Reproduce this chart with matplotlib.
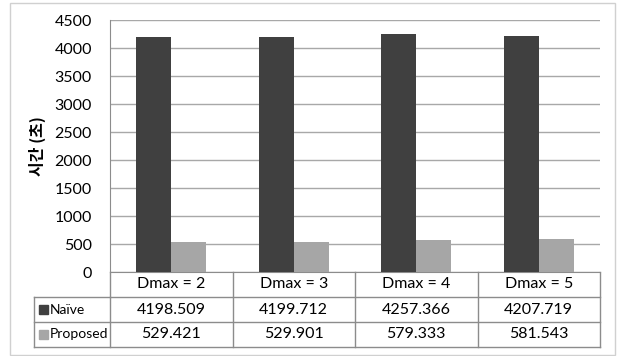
import matplotlib.pyplot as plt
import numpy as np
from matplotlib.patches import Rectangle

plt.rcParams['font.family'] = ['Lato', 'Noto Sans CJK KR', 'DejaVu Sans']

categories = ['Dmax = 2', 'Dmax = 3', 'Dmax = 4', 'Dmax = 5']
series = ['Naïve', 'Proposed']
naive = [4198.509, 4199.712, 4257.366, 4207.719]
proposed = [529.421, 529.901, 579.333, 581.543]
colors = ['#404040', '#a6a6a6']
yticks = [0, 500, 1000, 1500, 2000, 2500, 3000, 3500, 4000, 4500]

W, H = 617, 356
fig = plt.figure(figsize=(W / 100, H / 100), dpi=100)

# outer chart border
fig.add_artist(Rectangle((10 / W, 1 - 355 / H), 605 / W, 352 / H,
                         transform=fig.transFigure, fill=False,
                         ec='#d0d0d0', lw=1))

ax = fig.add_axes([110 / W, 1 - 272 / H, 490 / W, 252 / H])

x = np.arange(len(categories))
barWidth = 0.286
values = [naive, proposed]
for i, name in enumerate(series):
    ax.bar(x - barWidth / 2 + i * barWidth, values[i], barWidth,
           color=colors[i], label=name, zorder=3)

ax.set_xlim(-0.5, len(categories) - 0.5)
ax.set_ylim(0, 4500)
ax.set_yticks(yticks)
ax.set_yticklabels([str(t) for t in yticks], fontsize=11.5)
ax.tick_params(axis='y', length=0, pad=13)
ax.set_xticks([])
ax.grid(axis='y', color='#a8a8a8', lw=1, zorder=0)
for s in ['top', 'right']:
    ax.spines[s].set_visible(False)
ax.spines['left'].set_color('#8c8c8c')
ax.spines['bottom'].set_color('#8c8c8c')
ax.set_ylabel('시간 (초)', fontsize=11.5, fontweight='bold',
              family=['Noto Sans CJK KR', 'DejaVu Sans'])
ax.yaxis.set_label_coords(-64 / 490, 0.5)

# data table under the axes
rowH = 25 / 252
labelW = 76 / 490
n = len(categories)
lc = '#8c8c8c'
kw = dict(transform=ax.transAxes, clip_on=False, color=lc, lw=1)
fs = 11.5

# header row
for j in range(n + 1):
    ax.plot([j / n, j / n], [0, -3 * rowH], **kw)
ax.plot([0, 1], [-rowH, -rowH], **kw)
for j, c in enumerate(categories):
    ax.text((j + 0.5) / n, -0.5 * rowH, c, transform=ax.transAxes,
            ha='center', va='center', fontsize=fs)

# series rows
ax.plot([-labelW, -labelW], [-rowH, -3 * rowH], **kw)
for k in range(2, 4):
    ax.plot([-labelW, 1], [-k * rowH, -k * rowH], **kw)
ax.plot([-labelW, 0], [-rowH, -rowH], **kw)
for i, name in enumerate(series):
    yc = -(i + 1.5) * rowH
    ax.add_patch(Rectangle((-labelW + 5 / 490, yc - 4.5 / 252), 9 / 490, 9 / 252,
                           transform=ax.transAxes, clip_on=False,
                           color=colors[i]))
    ax.text(-labelW + 16 / 490, yc, name, transform=ax.transAxes,
            ha='left', va='center', fontsize=10)
    for j, v in enumerate(values[i]):
        ax.text((j + 0.5) / n, yc, f'{v:.3f}', transform=ax.transAxes,
                ha='center', va='center', fontsize=fs)

fig.savefig('out.png', dpi=100)
